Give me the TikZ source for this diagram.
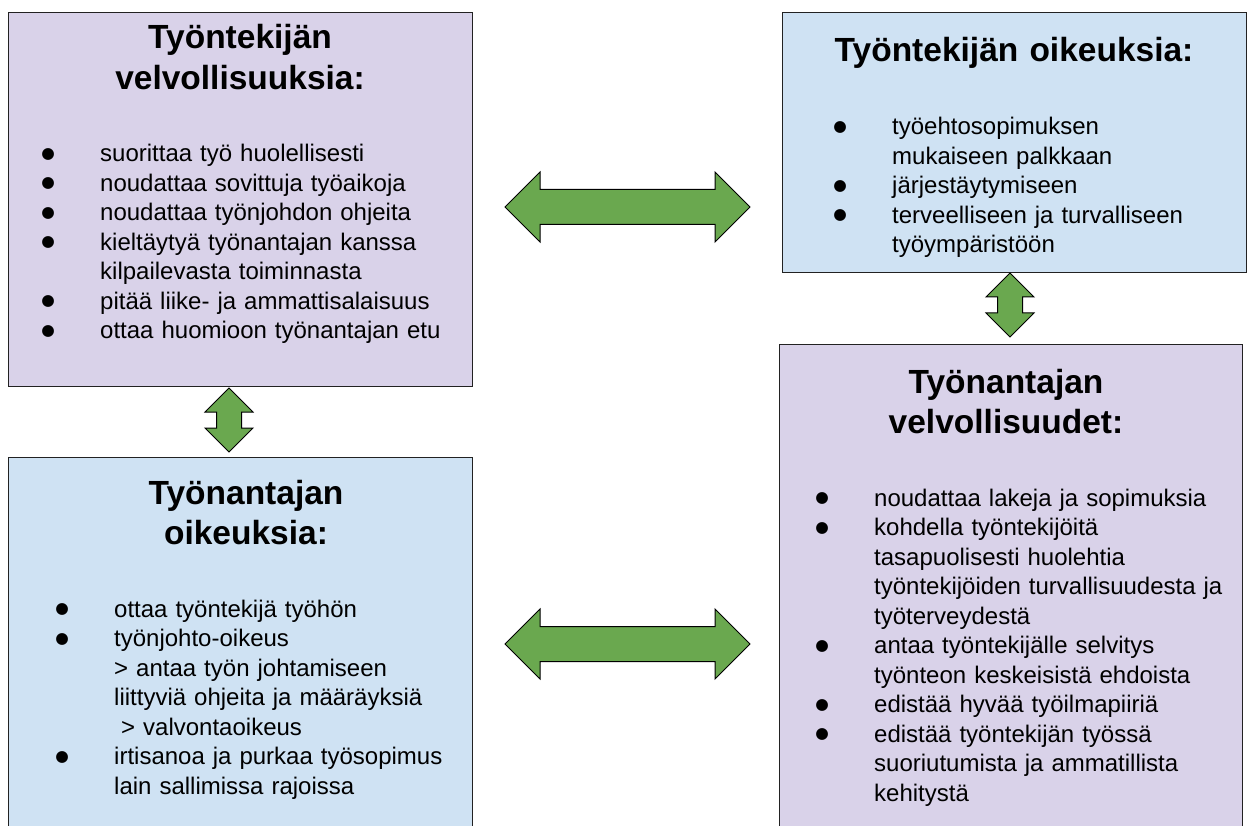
\documentclass[tikz,border=0pt]{standalone}
\usepackage{fontspec}
\setmainfont{Liberation Sans}
\newfontfamily\bulletfont{DejaVu Sans}
\definecolor{lilac}{HTML}{D9D2E9}
\definecolor{paleblue}{HTML}{CFE2F3}
\definecolor{leaf}{HTML}{6AA84F}
\definecolor{edge}{HTML}{222222}
% bullet centred on the current point, then the hanging indent
\newcommand\bul{\makebox[0pt]{\raisebox{3.5pt}{\bulletfont\fontsize{15.5}{15.5}\selectfont ●}}\hspace*{52pt}}
\newcommand\cont{\hspace*{52pt}}

\begin{document}
\begin{tikzpicture}[x=1pt,y=-1pt,
  panel/.style={rectangle, draw=edge, line width=1.3pt, anchor=north west, inner sep=0pt},
  lilacpanel/.style={panel, fill=lilac},
  bluepanel/.style={panel, fill=paleblue},
  heading/.style={font=\bfseries\fontsize{33.5}{40.5}\selectfont, text width=460pt,
                  align=center, anchor=base, inner sep=0pt},
  items/.style={font=\fontsize{24}{29.5}\selectfont, text width=440pt,
                align=left, anchor=base west, inner sep=0pt},
  link/.style={draw=black, line width=1pt, fill=leaf, line join=miter},
  pics/harrow/.style={code={
    \draw[link] (0,0) -- (35,-35) -- (35,-17.5) -- (210,-17.5) -- (210,-35) -- (245,0)
      -- (210,35) -- (210,17.5) -- (35,17.5) -- (35,35) -- cycle;}},
  pics/varrow/.style={code={
    \draw[link] (0,0) -- (24,24) -- (12.5,24) -- (12.5,40) -- (24,40) -- (0,64)
      -- (-24,40) -- (-12.5,40) -- (-12.5,24) -- (-24,24) -- cycle;}}
]
\clip (0,0) rectangle (1248,826);

% the four panels
\node[lilacpanel, minimum width=464pt, minimum height=374pt] (empduty) at (8,12) {};
\node[bluepanel,  minimum width=464pt, minimum height=390pt] (emprright) at (8,457) {};
\node[bluepanel,  minimum width=464pt, minimum height=260pt] (empright) at (782,12) {};
\node[lilacpanel, minimum width=463pt, minimum height=500pt] (emprduty) at (779,344) {};

% headings
\node[heading] (h1) at (240,49) {Työntekijän\\velvollisuuksia:};
\node[heading] (h2) at (246,504) {Työnantajan\\oikeuksia:};
\node[heading] (h3) at (1014,62) {Työntekijän oikeuksia:};
\node[heading] (h4) at (1006,393) {Työnantajan\\velvollisuudet:};

% item lists
\node[items] (l1) at (48,162) {%
\bul suorittaa työ huolellisesti\\
\bul noudattaa sovittuja työaikoja\\
\bul noudattaa työnjohdon ohjeita\\
\bul kieltäytyä työnantajan kanssa\\
\cont kilpailevasta toiminnasta\\
\bul pitää liike- ja ammattisalaisuus\\
\bul ottaa huomioon työnantajan etu};

\node[items] (l2) at (62,617) {%
\bul ottaa työntekijä työhön\\
\bul työnjohto-oikeus\\
\cont > antaa työn johtamiseen\\
\cont liittyviä ohjeita ja määräyksiä\\
\cont\hspace*{7pt}> valvontaoikeus\\
\bul irtisanoa ja purkaa työsopimus\\
\cont lain sallimissa rajoissa};

\node[items] (l3) at (840,135) {%
\bul työehtosopimuksen\\
\cont mukaiseen palkkaan\\
\bul järjestäytymiseen\\
\bul terveelliseen ja turvalliseen\\
\cont työympäristöön};

\node[items] (l4) at (822,506) {%
\bul noudattaa lakeja ja sopimuksia\\
\bul kohdella työntekijöitä\\
\cont tasapuolisesti huolehtia\\
\cont työntekijöiden turvallisuudesta ja\\
\cont työterveydestä\\
\bul antaa työntekijälle selvitys\\
\cont työnteon keskeisistä ehdoista\\
\bul edistää hyvää työilmapiiriä\\
\bul edistää työntekijän työssä\\
\cont suoriutumista ja ammatillista\\
\cont kehitystä};

% double-headed arrows between the panels
\pic at (505,207) {harrow};
\pic at (505,644) {harrow};
\pic at (229,388) {varrow};
\pic at (1010,273) {varrow};
\end{tikzpicture}
\end{document}
